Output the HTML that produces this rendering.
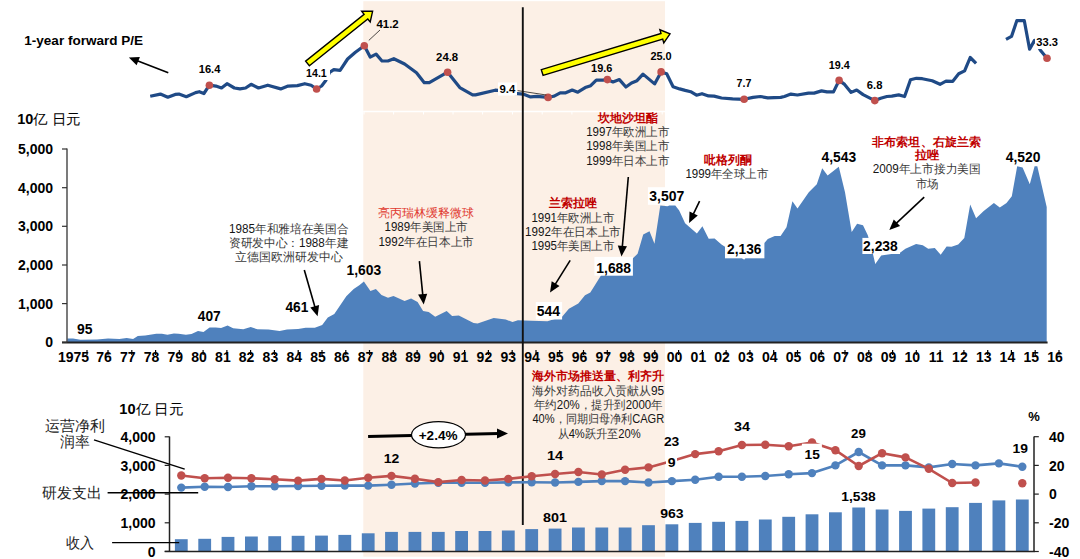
<!DOCTYPE html><html><head><meta charset="utf-8"><style>html,body{margin:0;padding:0;background:#fff;overflow:hidden}svg{display:block}text{font-family:'Liberation Sans', sans-serif}</style></head><body>
<svg width="1080" height="559" viewBox="0 0 1080 559">
<rect x="0" y="0" width="1080" height="559" fill="#fff"/>
<rect x="363.3" y="1.2" width="301.7" height="555.5" fill="#FCF0E6"/>
<line x1="363.3" y1="111.5" x2="665" y2="111.5" stroke="#fff" stroke-width="1.5"/>
<line x1="364" y1="111" x2="364" y2="114.5" stroke="#fff" stroke-width="1"/>
<line x1="393.6" y1="111" x2="393.6" y2="114.5" stroke="#fff" stroke-width="1"/>
<line x1="423.5" y1="111" x2="423.5" y2="114.5" stroke="#fff" stroke-width="1"/>
<line x1="453" y1="111" x2="453" y2="114.5" stroke="#fff" stroke-width="1"/>
<line x1="482.6" y1="111" x2="482.6" y2="114.5" stroke="#fff" stroke-width="1"/>
<line x1="512.5" y1="111" x2="512.5" y2="114.5" stroke="#fff" stroke-width="1"/>
<line x1="542.2" y1="111" x2="542.2" y2="114.5" stroke="#fff" stroke-width="1"/>
<line x1="571.9" y1="111" x2="571.9" y2="114.5" stroke="#fff" stroke-width="1"/>
<line x1="602.2" y1="111" x2="602.2" y2="114.5" stroke="#fff" stroke-width="1"/>
<line x1="632.3" y1="111" x2="632.3" y2="114.5" stroke="#fff" stroke-width="1"/>
<line x1="662.2" y1="111" x2="662.2" y2="114.5" stroke="#fff" stroke-width="1"/>
<polyline points="150.2,96.3 160.4,94.1 167.8,97.2 175.2,94.4 178.9,94.1 186.3,96.7 195.6,92.6 199.3,91.7 203.9,93.5 209.4,85.2 215.9,86.1 221.5,88.0 227.0,83.7 234.4,88.0 240.0,88.9 245.6,88.0 251.1,84.3 258.5,88.0 267.8,85.2 280.7,88.9 288.1,86.1 297.4,85.6 304.8,83.7 311.1,85.2 316.6,89.0 321.6,86.0 325.6,80.8 329.6,72.3 333.8,69.7 340.1,70.3 347.6,59.0 355.4,52.2 364.3,45.7 370.2,57.1 376.1,54.1 382.0,61.0 387.9,61.0 393.8,58.7 404.6,64.0 416.5,72.8 424.3,82.7 429.3,82.7 447.6,72.2 459.8,87.6 472.6,94.9 475.5,94.9 495.2,90.2 501.1,90.6 513.9,93.5 517.6,93.7 523.1,94.1 530.6,96.9 537.0,96.3 548.1,97.4 553.7,96.3 560.2,92.8 565.7,92.8 572.2,90.0 577.8,92.2 585.2,87.6 590.7,85.7 596.3,80.2 602.8,80.2 607.4,79.6 613.0,82.0 619.4,79.6 625.9,87.0 631.5,83.0 637.0,80.7 643.0,74.1 654.6,83.9 661.1,71.9 666.7,73.7 673.1,86.7 679.6,88.9 685.2,90.4 690.7,91.7 696.5,95.2 702.0,93.7 708.5,95.9 714.1,96.1 721.5,98.0 732.6,98.9 744.1,99.3 753.0,97.4 760.4,96.5 767.8,97.8 780.7,97.4 784.4,96.5 790.9,94.1 797.4,95.0 808.5,93.1 814.1,93.1 821.5,90.9 827.0,91.9 833.5,91.9 839.1,80.4 844.6,84.4 851.1,92.4 856.7,90.0 863.1,94.6 874.8,100.6 880.7,98.3 886.9,96.5 891.8,96.1 898.7,94.9 904.6,96.5 910.5,79.7 916.4,78.3 922.3,78.7 932.2,80.7 940.0,84.3 946.0,81.1 952.8,81.3 958.7,73.8 964.6,70.9 970.2,57.5 976.1,63.4" fill="none" stroke="#1F4A86" stroke-width="3.2" stroke-linejoin="round" stroke-linecap="butt"/>
<polyline points="1006.0,39.4 1011.5,36.4 1016.8,20.7 1024.3,20.7 1029.6,49.2 1034.5,40.4 1037.0,44.0 1040.4,50.2 1047.0,58.3" fill="none" stroke="#1F4A86" stroke-width="3.2" stroke-linejoin="round" stroke-linecap="butt"/>
<circle cx="209.4" cy="85.2" r="3.8" fill="#C0504D"/>
<circle cx="316.6" cy="89.0" r="3.8" fill="#C0504D"/>
<circle cx="364.3" cy="45.7" r="3.8" fill="#C0504D"/>
<circle cx="447.6" cy="72.2" r="3.8" fill="#C0504D"/>
<circle cx="548.1" cy="97.4" r="3.8" fill="#C0504D"/>
<circle cx="607.4" cy="79.6" r="3.8" fill="#C0504D"/>
<circle cx="661.1" cy="71.9" r="3.8" fill="#C0504D"/>
<circle cx="744.1" cy="99.3" r="3.8" fill="#C0504D"/>
<circle cx="839.1" cy="80.4" r="3.8" fill="#C0504D"/>
<circle cx="874.8" cy="100.6" r="3.8" fill="#C0504D"/>
<circle cx="1047" cy="58.3" r="3.8" fill="#C0504D"/>
<rect x="303" y="66" width="27" height="14" fill="#fff"/>
<rect x="498" y="82.5" width="19" height="13" fill="#fff"/>
<rect x="1035" y="36" width="24" height="13" fill="#fff"/>
<line x1="368.8" y1="40.4" x2="380" y2="30" stroke="#000" stroke-width="0.7"/>
<line x1="517.6" y1="90.6" x2="546.3" y2="95" stroke="#000" stroke-width="0.7"/>
<text x="198.7" y="73.1" font-size="11" font-weight="bold" text-anchor="start" fill="#000" textLength="21.7" lengthAdjust="spacingAndGlyphs" >16.4</text>
<text x="306.1" y="76.8" font-size="11" font-weight="bold" text-anchor="start" fill="#000" textLength="20.7" lengthAdjust="spacingAndGlyphs" >14.1</text>
<text x="376.4" y="28.1" font-size="11" font-weight="bold" text-anchor="start" fill="#000" textLength="22.3" lengthAdjust="spacingAndGlyphs" >41.2</text>
<text x="436.1" y="60.5" font-size="11" font-weight="bold" text-anchor="start" fill="#000" textLength="22.1" lengthAdjust="spacingAndGlyphs" >24.8</text>
<text x="499.5" y="92.7" font-size="11" font-weight="bold" text-anchor="start" fill="#000" textLength="15.8" lengthAdjust="spacingAndGlyphs" >9.4</text>
<text x="591.1" y="72.0" font-size="11" font-weight="bold" text-anchor="start" fill="#000" textLength="21.3" lengthAdjust="spacingAndGlyphs" >19.6</text>
<text x="650.4" y="59.8" font-size="11" font-weight="bold" text-anchor="start" fill="#000" textLength="21.3" lengthAdjust="spacingAndGlyphs" >25.0</text>
<text x="736.6" y="86.8" font-size="11" font-weight="bold" text-anchor="start" fill="#000" textLength="14.8" lengthAdjust="spacingAndGlyphs" >7.7</text>
<text x="828.7" y="68.6" font-size="11" font-weight="bold" text-anchor="start" fill="#000" textLength="21.0" lengthAdjust="spacingAndGlyphs" >19.4</text>
<text x="866.8" y="89.0" font-size="11" font-weight="bold" text-anchor="start" fill="#000" textLength="15.6" lengthAdjust="spacingAndGlyphs" >6.8</text>
<text x="1036.3" y="46.2" font-size="11" font-weight="bold" text-anchor="start" fill="#000" textLength="21.7" lengthAdjust="spacingAndGlyphs" >33.3</text>
<text x="24.3" y="45.2" font-size="13" font-weight="bold" text-anchor="start" fill="#000" textLength="118.8" lengthAdjust="spacingAndGlyphs" >1-year forward P/E</text>
<line x1="168.3" y1="72.8" x2="137.3" y2="60.8" stroke="#000" stroke-width="1.6"/>
<polygon points="128.9,57.5 139.9,56.9 136.6,65.3" fill="#000"/>
<polygon points="309.4,65.8 367.8,19.0 370.2,21.9 372.6,11.3 361.7,11.3 364.1,14.3 305.6,61.2" fill="#FFFF00" stroke="#000" stroke-width="1.4" stroke-linejoin="miter"/>
<polygon points="543.1,75.4 662.7,39.2 663.8,42.9 670.0,33.9 659.9,29.8 661.0,33.5 541.3,69.6" fill="#FFFF00" stroke="#000" stroke-width="1.4" stroke-linejoin="miter"/>
<polygon points="67.4,342.5 67.4,338.5 73.0,338.5 80.4,339.8 97.0,339.4 108.1,338.5 119.3,339.1 126.7,338.1 133.1,339.1 137.8,336.1 145.2,335.6 156.3,333.7 161.9,333.7 167.4,334.8 173.9,333.5 178.5,333.7 185.9,334.8 191.5,333.9 198.0,331.1 203.5,332.0 209.6,327.4 215.6,327.4 221.1,328.0 227.6,325.4 233.1,328.3 243.3,329.3 250.7,327.0 257.4,329.3 268.5,329.6 279.6,330.9 287.0,329.6 298.1,329.1 305.6,327.8 314.8,327.8 322.2,325.0 327.8,317.6 334.3,313.9 346.3,296.3 353.7,288.9 359.3,285.2 363.9,281.5 370.4,291.1 375.9,288.9 381.5,295.0 388.0,297.8 393.5,295.9 404.6,300.9 411.1,298.5 417.6,301.9 423.1,311.1 428.7,312.0 435.2,316.7 446.7,310.9 452.1,316.0 458.8,315.4 473.6,323.0 477.6,323.5 493.7,318.1 505.8,319.5 512.5,322.1 517.9,320.3 531.3,320.8 547.4,321.3 562.1,316.8 568.9,308.7 578.3,303.4 585.0,295.3 590.3,292.6 594.4,285.9 601.1,275.2 607.8,271.1 614.5,271.1 627.9,266.0 632.9,258.2 637.6,253.8 643.2,234.4 649.5,231.3 654.5,243.8 660.3,205.6 667.4,206.2 669.4,205.6 675.3,205.6 679.2,210.5 685.1,223.3 696.9,233.5 702.4,226.3 708.7,238.7 714.6,238.5 721.5,244.6 730.0,250.0 744.2,259.7 750.0,252.0 764.4,243.0 767.8,239.0 774.7,236.1 780.6,236.1 786.5,227.2 792.4,201.3 797.5,208.4 808.8,192.3 816.8,184.3 822.2,168.2 827.6,175.4 838.8,166.8 845.0,192.3 851.7,232.0 857.1,223.7 863.0,225.3 867.8,235.3 872.0,250.0 875.3,264.0 881.2,255.4 900.0,252.7 905.4,248.7 916.1,244.1 922.8,245.2 928.2,248.7 934.8,247.9 940.7,254.8 946.6,246.5 951.5,246.8 958.2,244.6 964.3,237.9 970.2,204.4 976.1,218.3 983.7,211.1 993.9,203.1 999.8,207.6 1006.5,203.1 1011.8,196.3 1017.2,166.3 1022.6,167.4 1029.8,184.3 1034.6,166.3 1037.3,166.3 1046.7,207.1 1046.7,342.5" fill="#4F81BD"/>
<line x1="62" y1="342.5" x2="1047.6" y2="342.5" stroke="#222" stroke-width="1.8"/>
<line x1="67" y1="148.6" x2="67" y2="342.5" stroke="#333" stroke-width="1.3"/>
<line x1="62" y1="149.0" x2="67" y2="149.0" stroke="#333" stroke-width="1.2"/>
<text x="53.0" y="154.0" font-size="14" font-weight="bold" text-anchor="end" fill="#000" >5,000</text>
<line x1="62" y1="187.7" x2="67" y2="187.7" stroke="#333" stroke-width="1.2"/>
<text x="53.0" y="192.7" font-size="14" font-weight="bold" text-anchor="end" fill="#000" >4,000</text>
<line x1="62" y1="226.3" x2="67" y2="226.3" stroke="#333" stroke-width="1.2"/>
<text x="53.0" y="231.3" font-size="14" font-weight="bold" text-anchor="end" fill="#000" >3,000</text>
<line x1="62" y1="265.0" x2="67" y2="265.0" stroke="#333" stroke-width="1.2"/>
<text x="53.0" y="270.0" font-size="14" font-weight="bold" text-anchor="end" fill="#000" >2,000</text>
<line x1="62" y1="303.6" x2="67" y2="303.6" stroke="#333" stroke-width="1.2"/>
<text x="53.0" y="308.6" font-size="14" font-weight="bold" text-anchor="end" fill="#000" >1,000</text>
<line x1="62" y1="342.3" x2="67" y2="342.3" stroke="#333" stroke-width="1.2"/>
<text x="53.0" y="347.3" font-size="14" font-weight="bold" text-anchor="end" fill="#000" >0</text>
<text x="17.3" y="124" font-size="14" textLength="63.5" lengthAdjust="spacingAndGlyphs"><tspan font-weight="bold">10</tspan><tspan font-weight="normal">亿 日元</tspan></text>
<text x="73.5" y="362.0" font-size="14" font-weight="bold" text-anchor="middle" fill="#000" >1975</text>
<line x1="87.0" y1="350" x2="87.0" y2="355" stroke="#000" stroke-width="1.2"/>
<text x="104.0" y="362.0" font-size="14" font-weight="bold" text-anchor="middle" fill="#000" >76</text>
<line x1="108.0" y1="350" x2="108.0" y2="355" stroke="#000" stroke-width="1.2"/>
<text x="127.8" y="362.0" font-size="14" font-weight="bold" text-anchor="middle" fill="#000" >77</text>
<line x1="131.8" y1="350" x2="131.8" y2="355" stroke="#000" stroke-width="1.2"/>
<text x="151.6" y="362.0" font-size="14" font-weight="bold" text-anchor="middle" fill="#000" >78</text>
<line x1="155.6" y1="350" x2="155.6" y2="355" stroke="#000" stroke-width="1.2"/>
<text x="175.3" y="362.0" font-size="14" font-weight="bold" text-anchor="middle" fill="#000" >79</text>
<line x1="179.3" y1="350" x2="179.3" y2="355" stroke="#000" stroke-width="1.2"/>
<text x="199.1" y="362.0" font-size="14" font-weight="bold" text-anchor="middle" fill="#000" >80</text>
<line x1="203.1" y1="350" x2="203.1" y2="355" stroke="#000" stroke-width="1.2"/>
<text x="222.9" y="362.0" font-size="14" font-weight="bold" text-anchor="middle" fill="#000" >81</text>
<line x1="226.9" y1="350" x2="226.9" y2="355" stroke="#000" stroke-width="1.2"/>
<text x="246.6" y="362.0" font-size="14" font-weight="bold" text-anchor="middle" fill="#000" >82</text>
<line x1="250.6" y1="350" x2="250.6" y2="355" stroke="#000" stroke-width="1.2"/>
<text x="270.4" y="362.0" font-size="14" font-weight="bold" text-anchor="middle" fill="#000" >83</text>
<line x1="274.4" y1="350" x2="274.4" y2="355" stroke="#000" stroke-width="1.2"/>
<text x="294.2" y="362.0" font-size="14" font-weight="bold" text-anchor="middle" fill="#000" >84</text>
<line x1="298.2" y1="350" x2="298.2" y2="355" stroke="#000" stroke-width="1.2"/>
<text x="318.0" y="362.0" font-size="14" font-weight="bold" text-anchor="middle" fill="#000" >85</text>
<line x1="322.0" y1="350" x2="322.0" y2="355" stroke="#000" stroke-width="1.2"/>
<text x="341.8" y="362.0" font-size="14" font-weight="bold" text-anchor="middle" fill="#000" >86</text>
<line x1="345.8" y1="350" x2="345.8" y2="355" stroke="#000" stroke-width="1.2"/>
<text x="365.5" y="362.0" font-size="14" font-weight="bold" text-anchor="middle" fill="#000" >87</text>
<line x1="369.5" y1="350" x2="369.5" y2="355" stroke="#000" stroke-width="1.2"/>
<text x="389.3" y="362.0" font-size="14" font-weight="bold" text-anchor="middle" fill="#000" >88</text>
<line x1="393.3" y1="350" x2="393.3" y2="355" stroke="#000" stroke-width="1.2"/>
<text x="413.1" y="362.0" font-size="14" font-weight="bold" text-anchor="middle" fill="#000" >89</text>
<line x1="417.1" y1="350" x2="417.1" y2="355" stroke="#000" stroke-width="1.2"/>
<text x="436.8" y="362.0" font-size="14" font-weight="bold" text-anchor="middle" fill="#000" >90</text>
<line x1="440.8" y1="350" x2="440.8" y2="355" stroke="#000" stroke-width="1.2"/>
<text x="460.6" y="362.0" font-size="14" font-weight="bold" text-anchor="middle" fill="#000" >91</text>
<line x1="464.6" y1="350" x2="464.6" y2="355" stroke="#000" stroke-width="1.2"/>
<text x="484.4" y="362.0" font-size="14" font-weight="bold" text-anchor="middle" fill="#000" >92</text>
<line x1="488.4" y1="350" x2="488.4" y2="355" stroke="#000" stroke-width="1.2"/>
<text x="508.2" y="362.0" font-size="14" font-weight="bold" text-anchor="middle" fill="#000" >93</text>
<line x1="512.2" y1="350" x2="512.2" y2="355" stroke="#000" stroke-width="1.2"/>
<text x="532.0" y="362.0" font-size="14" font-weight="bold" text-anchor="middle" fill="#000" >94</text>
<line x1="536.0" y1="350" x2="536.0" y2="355" stroke="#000" stroke-width="1.2"/>
<text x="555.7" y="362.0" font-size="14" font-weight="bold" text-anchor="middle" fill="#000" >95</text>
<line x1="559.7" y1="350" x2="559.7" y2="355" stroke="#000" stroke-width="1.2"/>
<text x="579.5" y="362.0" font-size="14" font-weight="bold" text-anchor="middle" fill="#000" >96</text>
<line x1="583.5" y1="350" x2="583.5" y2="355" stroke="#000" stroke-width="1.2"/>
<text x="603.3" y="362.0" font-size="14" font-weight="bold" text-anchor="middle" fill="#000" >97</text>
<line x1="607.3" y1="350" x2="607.3" y2="355" stroke="#000" stroke-width="1.2"/>
<text x="627.0" y="362.0" font-size="14" font-weight="bold" text-anchor="middle" fill="#000" >98</text>
<line x1="631.0" y1="350" x2="631.0" y2="355" stroke="#000" stroke-width="1.2"/>
<text x="650.8" y="362.0" font-size="14" font-weight="bold" text-anchor="middle" fill="#000" >99</text>
<line x1="654.8" y1="350" x2="654.8" y2="355" stroke="#000" stroke-width="1.2"/>
<text x="674.6" y="362.0" font-size="14" font-weight="bold" text-anchor="middle" fill="#000" >00</text>
<line x1="678.6" y1="350" x2="678.6" y2="355" stroke="#000" stroke-width="1.2"/>
<text x="698.4" y="362.0" font-size="14" font-weight="bold" text-anchor="middle" fill="#000" >01</text>
<line x1="702.4" y1="350" x2="702.4" y2="355" stroke="#000" stroke-width="1.2"/>
<text x="722.1" y="362.0" font-size="14" font-weight="bold" text-anchor="middle" fill="#000" >02</text>
<line x1="726.1" y1="350" x2="726.1" y2="355" stroke="#000" stroke-width="1.2"/>
<text x="745.9" y="362.0" font-size="14" font-weight="bold" text-anchor="middle" fill="#000" >03</text>
<line x1="749.9" y1="350" x2="749.9" y2="355" stroke="#000" stroke-width="1.2"/>
<text x="769.7" y="362.0" font-size="14" font-weight="bold" text-anchor="middle" fill="#000" >04</text>
<line x1="773.7" y1="350" x2="773.7" y2="355" stroke="#000" stroke-width="1.2"/>
<text x="793.5" y="362.0" font-size="14" font-weight="bold" text-anchor="middle" fill="#000" >05</text>
<line x1="797.5" y1="350" x2="797.5" y2="355" stroke="#000" stroke-width="1.2"/>
<text x="817.2" y="362.0" font-size="14" font-weight="bold" text-anchor="middle" fill="#000" >06</text>
<line x1="821.2" y1="350" x2="821.2" y2="355" stroke="#000" stroke-width="1.2"/>
<text x="841.0" y="362.0" font-size="14" font-weight="bold" text-anchor="middle" fill="#000" >07</text>
<line x1="845.0" y1="350" x2="845.0" y2="355" stroke="#000" stroke-width="1.2"/>
<text x="864.8" y="362.0" font-size="14" font-weight="bold" text-anchor="middle" fill="#000" >08</text>
<line x1="868.8" y1="350" x2="868.8" y2="355" stroke="#000" stroke-width="1.2"/>
<text x="888.6" y="362.0" font-size="14" font-weight="bold" text-anchor="middle" fill="#000" >09</text>
<line x1="892.6" y1="350" x2="892.6" y2="355" stroke="#000" stroke-width="1.2"/>
<text x="912.3" y="362.0" font-size="14" font-weight="bold" text-anchor="middle" fill="#000" >10</text>
<line x1="916.3" y1="350" x2="916.3" y2="355" stroke="#000" stroke-width="1.2"/>
<text x="936.1" y="362.0" font-size="14" font-weight="bold" text-anchor="middle" fill="#000" >11</text>
<line x1="940.1" y1="350" x2="940.1" y2="355" stroke="#000" stroke-width="1.2"/>
<text x="959.9" y="362.0" font-size="14" font-weight="bold" text-anchor="middle" fill="#000" >12</text>
<line x1="963.9" y1="350" x2="963.9" y2="355" stroke="#000" stroke-width="1.2"/>
<text x="983.7" y="362.0" font-size="14" font-weight="bold" text-anchor="middle" fill="#000" >13</text>
<line x1="987.7" y1="350" x2="987.7" y2="355" stroke="#000" stroke-width="1.2"/>
<text x="1007.4" y="362.0" font-size="14" font-weight="bold" text-anchor="middle" fill="#000" >14</text>
<line x1="1011.4" y1="350" x2="1011.4" y2="355" stroke="#000" stroke-width="1.2"/>
<text x="1031.2" y="362.0" font-size="14" font-weight="bold" text-anchor="middle" fill="#000" >15</text>
<line x1="1035.2" y1="350" x2="1035.2" y2="355" stroke="#000" stroke-width="1.2"/>
<text x="1055.0" y="362.0" font-size="14" font-weight="bold" text-anchor="middle" fill="#000" >16</text>
<line x1="1059.0" y1="350" x2="1059.0" y2="355" stroke="#000" stroke-width="1.2"/>
<rect x="535.8" y="302" width="26.3" height="17.5" fill="#fff"/>
<rect x="594.4" y="256.9" width="38.5" height="18.8" fill="#fff"/>
<rect x="647.9" y="187.2" width="36.4" height="17.6" fill="#fff"/>
<rect x="725" y="243" width="39.4" height="15.3" fill="#fff"/>
<rect x="862.4" y="237.9" width="37.6" height="16.1" fill="#fff"/>
<text x="76.9" y="333.5" font-size="14" font-weight="bold" text-anchor="start" fill="#000" textLength="15.5" lengthAdjust="spacingAndGlyphs" >95</text>
<text x="197.8" y="321.3" font-size="14" font-weight="bold" text-anchor="start" fill="#000" textLength="22.9" lengthAdjust="spacingAndGlyphs" >407</text>
<text x="285.4" y="312.0" font-size="14" font-weight="bold" text-anchor="start" fill="#000" textLength="22.9" lengthAdjust="spacingAndGlyphs" >461</text>
<text x="346.5" y="275.0" font-size="14" font-weight="bold" text-anchor="start" fill="#000" textLength="34.6" lengthAdjust="spacingAndGlyphs" >1,603</text>
<text x="536.7" y="316.0" font-size="14" font-weight="bold" text-anchor="start" fill="#000" textLength="23.3" lengthAdjust="spacingAndGlyphs" >544</text>
<text x="596.3" y="272.5" font-size="14" font-weight="bold" text-anchor="start" fill="#000" textLength="34.8" lengthAdjust="spacingAndGlyphs" >1,688</text>
<text x="649.3" y="201.2" font-size="14" font-weight="bold" text-anchor="start" fill="#000" textLength="35.0" lengthAdjust="spacingAndGlyphs" >3,507</text>
<text x="727.1" y="253.8" font-size="14" font-weight="bold" text-anchor="start" fill="#000" textLength="34.3" lengthAdjust="spacingAndGlyphs" >2,136</text>
<text x="821.5" y="161.5" font-size="14" font-weight="bold" text-anchor="start" fill="#000" textLength="34.7" lengthAdjust="spacingAndGlyphs" >4,543</text>
<text x="863.1" y="250.8" font-size="14" font-weight="bold" text-anchor="start" fill="#000" textLength="34.7" lengthAdjust="spacingAndGlyphs" >2,238</text>
<text x="1005.8" y="162.0" font-size="14" font-weight="bold" text-anchor="start" fill="#000" textLength="34.7" lengthAdjust="spacingAndGlyphs" >4,520</text>
<line x1="304.3" y1="270.0" x2="315.0" y2="307.2" stroke="#000" stroke-width="1.6"/>
<polygon points="317.6,316.3 310.3,307.5 319.1,304.9" fill="#000"/>
<line x1="419.4" y1="261.1" x2="422.8" y2="295.1" stroke="#000" stroke-width="1.6"/>
<polygon points="423.7,304.6 418.1,294.6 427.2,293.7" fill="#000"/>
<line x1="570.2" y1="260.4" x2="555.0" y2="284.6" stroke="#000" stroke-width="1.6"/>
<polygon points="550.0,292.6 551.7,281.3 559.5,286.1" fill="#000"/>
<line x1="628.3" y1="177.0" x2="622.3" y2="246.9" stroke="#000" stroke-width="1.6"/>
<polygon points="621.5,256.4 617.8,245.5 627.0,246.3" fill="#000"/>
<line x1="699.6" y1="201.2" x2="693.2" y2="214.3" stroke="#000" stroke-width="1.6"/>
<polygon points="689.1,222.9 689.5,211.4 697.8,215.5" fill="#000"/>
<line x1="924.2" y1="197.2" x2="896.2" y2="223.4" stroke="#000" stroke-width="1.6"/>
<polygon points="889.3,229.9 893.8,219.4 900.1,226.1" fill="#000"/>
<text x="228.9" y="232.7" font-size="12" font-weight="300" text-anchor="start" fill="#3a3a3a" textLength="119.6" lengthAdjust="spacingAndGlyphs" ><tspan fill="#151515">1985</tspan>年和雅培在美国合</text>
<text x="228.9" y="247.0" font-size="12" font-weight="300" text-anchor="start" fill="#3a3a3a" textLength="119.3" lengthAdjust="spacingAndGlyphs" >资研发中心：<tspan fill="#151515">1988</tspan>年建</text>
<text x="235.4" y="261.3" font-size="12" font-weight="300" text-anchor="start" fill="#3a3a3a" textLength="107.3" lengthAdjust="spacingAndGlyphs" >立德国欧洲研发中心</text>
<text x="378.4" y="217.3" font-size="12" font-weight="300" text-anchor="start" fill="#E0392F" textLength="95.4" lengthAdjust="spacingAndGlyphs" >亮丙瑞林缓释微球</text>
<text x="384.5" y="231.2" font-size="12" font-weight="300" text-anchor="start" fill="#3a3a3a" textLength="83.2" lengthAdjust="spacingAndGlyphs" ><tspan fill="#151515">1989</tspan>年美国上市</text>
<text x="378.4" y="245.6" font-size="12" font-weight="300" text-anchor="start" fill="#3a3a3a" textLength="95.4" lengthAdjust="spacingAndGlyphs" ><tspan fill="#151515">1992</tspan>年在日本上市</text>
<text x="598.0" y="121.7" font-size="12" font-weight="bold" text-anchor="start" fill="#C00000" textLength="60.3" lengthAdjust="spacingAndGlyphs" >坎地沙坦酯</text>
<text x="586.2" y="135.8" font-size="12" font-weight="300" text-anchor="start" fill="#3a3a3a" textLength="83.2" lengthAdjust="spacingAndGlyphs" ><tspan fill="#151515">1997</tspan>年欧洲上市</text>
<text x="586.2" y="149.9" font-size="12" font-weight="300" text-anchor="start" fill="#3a3a3a" textLength="83.2" lengthAdjust="spacingAndGlyphs" ><tspan fill="#151515">1998</tspan>年美国上市</text>
<text x="586.2" y="164.7" font-size="12" font-weight="300" text-anchor="start" fill="#3a3a3a" textLength="83.2" lengthAdjust="spacingAndGlyphs" ><tspan fill="#151515">1999</tspan>年日本上市</text>
<text x="548.9" y="207.0" font-size="12" font-weight="bold" text-anchor="start" fill="#C00000" textLength="48.0" lengthAdjust="spacingAndGlyphs" >兰索拉唑</text>
<text x="531.4" y="221.5" font-size="12" font-weight="300" text-anchor="start" fill="#3a3a3a" textLength="83.1" lengthAdjust="spacingAndGlyphs" ><tspan fill="#151515">1991</tspan>年欧洲上市</text>
<text x="525.1" y="235.9" font-size="12" font-weight="300" text-anchor="start" fill="#3a3a3a" textLength="95.7" lengthAdjust="spacingAndGlyphs" ><tspan fill="#151515">1992</tspan>年在日本上市</text>
<text x="531.4" y="250.3" font-size="12" font-weight="300" text-anchor="start" fill="#3a3a3a" textLength="83.1" lengthAdjust="spacingAndGlyphs" ><tspan fill="#151515">1995</tspan>年美国上市</text>
<text x="703.9" y="163.7" font-size="12" font-weight="bold" text-anchor="start" fill="#C00000" textLength="47.7" lengthAdjust="spacingAndGlyphs" >吡格列酮</text>
<text x="685.4" y="178.1" font-size="12" font-weight="300" text-anchor="start" fill="#3a3a3a" textLength="83.1" lengthAdjust="spacingAndGlyphs" ><tspan fill="#151515">1999</tspan>年全球上市</text>
<text x="872.4" y="146.0" font-size="12" font-weight="bold" text-anchor="start" fill="#C00000" textLength="108.3" lengthAdjust="spacingAndGlyphs" >非布索坦、右旋兰索</text>
<text x="914.6" y="158.9" font-size="12" font-weight="bold" text-anchor="start" fill="#C00000" textLength="24.6" lengthAdjust="spacingAndGlyphs" >拉唑</text>
<text x="872.7" y="173.2" font-size="12" font-weight="300" text-anchor="start" fill="#3a3a3a" textLength="108.0" lengthAdjust="spacingAndGlyphs" ><tspan fill="#151515">2009</tspan>年上市接力美国</text>
<text x="916.0" y="187.5" font-size="12" font-weight="300" text-anchor="start" fill="#3a3a3a" textLength="22.9" lengthAdjust="spacingAndGlyphs" >市场</text>
<text x="532.4" y="380.0" font-size="12" font-weight="bold" text-anchor="start" fill="#C00000" textLength="131.8" lengthAdjust="spacingAndGlyphs" >海外市场推送量、利齐升</text>
<text x="532.4" y="394.5" font-size="12" font-weight="300" text-anchor="start" fill="#3a3a3a" textLength="131.8" lengthAdjust="spacingAndGlyphs" >海外对药品收入贡献从<tspan fill="#151515">95</tspan></text>
<text x="533.9" y="408.9" font-size="12" font-weight="300" text-anchor="start" fill="#3a3a3a" textLength="128.8" lengthAdjust="spacingAndGlyphs" >年约<tspan fill="#151515">20%</tspan>，提升到<tspan fill="#151515">2000</tspan>年</text>
<text x="532.4" y="423.4" font-size="12" font-weight="300" text-anchor="start" fill="#3a3a3a" textLength="131.8" lengthAdjust="spacingAndGlyphs" ><tspan fill="#151515">40%</tspan>，同期归母净利<tspan fill="#151515">CAGR</tspan></text>
<text x="557.5" y="437.8" font-size="12" font-weight="300" text-anchor="start" fill="#3a3a3a" textLength="83.2" lengthAdjust="spacingAndGlyphs" >从<tspan fill="#151515">4%</tspan>跃升至<tspan fill="#151515">20%</tspan></text>
<line x1="522.8" y1="7.2" x2="522.8" y2="525" stroke="#111" stroke-width="1.9"/>
<text x="119.3" y="414" font-size="14" textLength="64" lengthAdjust="spacingAndGlyphs"><tspan font-weight="bold">10</tspan><tspan font-weight="normal">亿 日元</tspan></text>
<line x1="169.5" y1="436.5" x2="169.5" y2="551.5" stroke="#222" stroke-width="1.5"/>
<line x1="164.7" y1="436.8" x2="169.5" y2="436.8" stroke="#222" stroke-width="1.2"/>
<text x="155.5" y="442.0" font-size="14" font-weight="bold" text-anchor="end" fill="#000" >4,000</text>
<line x1="164.7" y1="465.4" x2="169.5" y2="465.4" stroke="#222" stroke-width="1.2"/>
<text x="155.5" y="470.6" font-size="14" font-weight="bold" text-anchor="end" fill="#000" >3,000</text>
<line x1="164.7" y1="494.1" x2="169.5" y2="494.1" stroke="#222" stroke-width="1.2"/>
<text x="155.5" y="499.3" font-size="14" font-weight="bold" text-anchor="end" fill="#000" >2,000</text>
<line x1="164.7" y1="522.8" x2="169.5" y2="522.8" stroke="#222" stroke-width="1.2"/>
<text x="155.5" y="528.0" font-size="14" font-weight="bold" text-anchor="end" fill="#000" >1,000</text>
<line x1="164.7" y1="551.4" x2="169.5" y2="551.4" stroke="#222" stroke-width="1.2"/>
<text x="155.5" y="556.6" font-size="14" font-weight="bold" text-anchor="end" fill="#000" >0</text>
<line x1="1034" y1="436.5" x2="1034" y2="551.5" stroke="#222" stroke-width="1.5"/>
<line x1="1034" y1="436.7" x2="1038.8" y2="436.7" stroke="#222" stroke-width="1.2"/>
<text x="1049.0" y="441.9" font-size="14" font-weight="bold" text-anchor="start" fill="#000" >40</text>
<line x1="1034" y1="465.4" x2="1038.8" y2="465.4" stroke="#222" stroke-width="1.2"/>
<text x="1049.0" y="470.6" font-size="14" font-weight="bold" text-anchor="start" fill="#000" >20</text>
<line x1="1034" y1="494.1" x2="1038.8" y2="494.1" stroke="#222" stroke-width="1.2"/>
<text x="1049.0" y="499.3" font-size="14" font-weight="bold" text-anchor="start" fill="#000" >0</text>
<line x1="1034" y1="522.8" x2="1038.8" y2="522.8" stroke="#222" stroke-width="1.2"/>
<text x="1049.0" y="528.0" font-size="14" font-weight="bold" text-anchor="start" fill="#000" >-20</text>
<line x1="1034" y1="551.5" x2="1038.8" y2="551.5" stroke="#222" stroke-width="1.2"/>
<text x="1049.0" y="556.7" font-size="14" font-weight="bold" text-anchor="start" fill="#000" >-40</text>
<text x="1028.3" y="421.3" font-size="13" font-weight="bold" text-anchor="start" fill="#000" >%</text>
<rect x="174.9" y="539.2" width="12.8" height="12.3" fill="#4F81BD"/>
<rect x="198.3" y="538.8" width="12.8" height="12.7" fill="#4F81BD"/>
<rect x="221.6" y="536.9" width="12.8" height="14.6" fill="#4F81BD"/>
<rect x="245.0" y="536.5" width="12.8" height="15.0" fill="#4F81BD"/>
<rect x="268.3" y="536.2" width="12.8" height="15.3" fill="#4F81BD"/>
<rect x="291.7" y="535.8" width="12.8" height="15.7" fill="#4F81BD"/>
<rect x="315.1" y="535.6" width="12.8" height="15.9" fill="#4F81BD"/>
<rect x="338.4" y="534.9" width="12.8" height="16.6" fill="#4F81BD"/>
<rect x="361.8" y="533.3" width="12.8" height="18.2" fill="#4F81BD"/>
<rect x="385.1" y="531.9" width="12.8" height="19.6" fill="#4F81BD"/>
<rect x="408.5" y="531.9" width="12.8" height="19.6" fill="#4F81BD"/>
<rect x="431.9" y="531.9" width="12.8" height="19.6" fill="#4F81BD"/>
<rect x="455.2" y="531" width="12.8" height="20.5" fill="#4F81BD"/>
<rect x="478.6" y="531" width="12.8" height="20.5" fill="#4F81BD"/>
<rect x="501.9" y="530.5" width="12.8" height="21.0" fill="#4F81BD"/>
<rect x="525.3" y="529.1" width="12.8" height="22.4" fill="#4F81BD"/>
<rect x="548.7" y="528.6" width="12.8" height="22.9" fill="#4F81BD"/>
<rect x="572.0" y="527.5" width="12.8" height="24.0" fill="#4F81BD"/>
<rect x="595.4" y="527.5" width="12.8" height="24.0" fill="#4F81BD"/>
<rect x="618.7" y="527.5" width="12.8" height="24.0" fill="#4F81BD"/>
<rect x="642.1" y="525.2" width="12.8" height="26.3" fill="#4F81BD"/>
<rect x="665.5" y="524.3" width="12.8" height="27.2" fill="#4F81BD"/>
<rect x="688.8" y="522.9" width="12.8" height="28.6" fill="#4F81BD"/>
<rect x="712.2" y="521.8" width="12.8" height="29.7" fill="#4F81BD"/>
<rect x="735.5" y="520.9" width="12.8" height="30.6" fill="#4F81BD"/>
<rect x="758.9" y="519.5" width="12.8" height="32.0" fill="#4F81BD"/>
<rect x="782.3" y="516.8" width="12.8" height="34.7" fill="#4F81BD"/>
<rect x="805.6" y="514.3" width="12.8" height="37.2" fill="#4F81BD"/>
<rect x="829.0" y="512.3" width="12.8" height="39.2" fill="#4F81BD"/>
<rect x="852.3" y="507.5" width="12.8" height="44.0" fill="#4F81BD"/>
<rect x="875.7" y="509.5" width="12.8" height="42.0" fill="#4F81BD"/>
<rect x="899.1" y="510.9" width="12.8" height="40.6" fill="#4F81BD"/>
<rect x="922.4" y="508.6" width="12.8" height="42.9" fill="#4F81BD"/>
<rect x="945.8" y="507.2" width="12.8" height="44.3" fill="#4F81BD"/>
<rect x="969.1" y="502.9" width="12.8" height="48.6" fill="#4F81BD"/>
<rect x="992.5" y="500.4" width="12.8" height="51.1" fill="#4F81BD"/>
<rect x="1015.9" y="499.5" width="12.8" height="52.0" fill="#4F81BD"/>
<line x1="164.7" y1="551.5" x2="1034.7" y2="551.5" stroke="#222" stroke-width="1.6"/>
<polyline points="181.3,487.6 204.7,486.7 228.0,487.0 251.4,486.3 274.7,486.3 298.1,486.0 321.5,485.8 344.8,485.6 368.2,485.6 391.5,484.7 414.9,483.5 438.3,482.8 461.6,482.8 485.0,482.8 508.3,482.4 531.7,482.2 555.1,482.5 578.4,481.9 601.8,481.1 625.1,481.1 648.5,482.5 671.9,481.1 695.2,479.7 718.6,476.8 741.9,476.8 765.3,476.0 788.7,474.3 812.0,473.1 835.4,465.4 858.7,452.0 882.1,465.4 905.5,465.4 928.8,467.4 952.2,464.0 975.5,465.4 998.9,463.4 1022.3,466.8" fill="none" stroke="#4F81BD" stroke-width="2.6" stroke-linejoin="round"/>
<circle cx="181.3" cy="487.6" r="4.2" fill="#4F81BD"/>
<circle cx="204.7" cy="486.7" r="4.2" fill="#4F81BD"/>
<circle cx="228.0" cy="487" r="4.2" fill="#4F81BD"/>
<circle cx="251.4" cy="486.3" r="4.2" fill="#4F81BD"/>
<circle cx="274.7" cy="486.3" r="4.2" fill="#4F81BD"/>
<circle cx="298.1" cy="486" r="4.2" fill="#4F81BD"/>
<circle cx="321.5" cy="485.8" r="4.2" fill="#4F81BD"/>
<circle cx="344.8" cy="485.6" r="4.2" fill="#4F81BD"/>
<circle cx="368.2" cy="485.6" r="4.2" fill="#4F81BD"/>
<circle cx="391.5" cy="484.7" r="4.2" fill="#4F81BD"/>
<circle cx="414.9" cy="483.5" r="4.2" fill="#4F81BD"/>
<circle cx="438.3" cy="482.8" r="4.2" fill="#4F81BD"/>
<circle cx="461.6" cy="482.8" r="4.2" fill="#4F81BD"/>
<circle cx="485.0" cy="482.8" r="4.2" fill="#4F81BD"/>
<circle cx="508.3" cy="482.4" r="4.2" fill="#4F81BD"/>
<circle cx="531.7" cy="482.2" r="4.2" fill="#4F81BD"/>
<circle cx="555.1" cy="482.5" r="4.2" fill="#4F81BD"/>
<circle cx="578.4" cy="481.9" r="4.2" fill="#4F81BD"/>
<circle cx="601.8" cy="481.1" r="4.2" fill="#4F81BD"/>
<circle cx="625.1" cy="481.1" r="4.2" fill="#4F81BD"/>
<circle cx="648.5" cy="482.5" r="4.2" fill="#4F81BD"/>
<circle cx="671.9" cy="481.1" r="4.2" fill="#4F81BD"/>
<circle cx="695.2" cy="479.7" r="4.2" fill="#4F81BD"/>
<circle cx="718.6" cy="476.8" r="4.2" fill="#4F81BD"/>
<circle cx="741.9" cy="476.8" r="4.2" fill="#4F81BD"/>
<circle cx="765.3" cy="476" r="4.2" fill="#4F81BD"/>
<circle cx="788.7" cy="474.3" r="4.2" fill="#4F81BD"/>
<circle cx="812.0" cy="473.1" r="4.2" fill="#4F81BD"/>
<circle cx="835.4" cy="465.4" r="4.2" fill="#4F81BD"/>
<circle cx="858.7" cy="452" r="4.2" fill="#4F81BD"/>
<circle cx="882.1" cy="465.4" r="4.2" fill="#4F81BD"/>
<circle cx="905.5" cy="465.4" r="4.2" fill="#4F81BD"/>
<circle cx="928.8" cy="467.4" r="4.2" fill="#4F81BD"/>
<circle cx="952.2" cy="464" r="4.2" fill="#4F81BD"/>
<circle cx="975.5" cy="465.4" r="4.2" fill="#4F81BD"/>
<circle cx="998.9" cy="463.4" r="4.2" fill="#4F81BD"/>
<circle cx="1022.3" cy="466.8" r="4.2" fill="#4F81BD"/>
<polyline points="181.3,475.5 204.7,478.3 228.0,477.7 251.4,478.3 274.7,479.2 298.1,480.6 321.5,478.9 344.8,480.5 368.2,477.7 391.5,475.9 414.9,478.7 438.3,482.1 461.6,480.0 485.0,480.5 508.3,478.9 531.7,476.3 555.1,474.0 578.4,472.0 601.8,474.5 625.1,469.7 648.5,467.4 671.9,461.0 695.2,454.1 718.6,451.2 741.9,445.0 765.3,444.7 788.7,446.2 812.0,442.5 835.4,450.2 858.7,466.0 882.1,453.2 905.5,457.4 928.8,468.8 952.2,483.0 975.5,482.5" fill="none" stroke="#C0504D" stroke-width="2.6" stroke-linejoin="round"/>
<circle cx="181.3" cy="475.5" r="4.2" fill="#C0504D"/>
<circle cx="204.7" cy="478.3" r="4.2" fill="#C0504D"/>
<circle cx="228.0" cy="477.7" r="4.2" fill="#C0504D"/>
<circle cx="251.4" cy="478.3" r="4.2" fill="#C0504D"/>
<circle cx="274.7" cy="479.2" r="4.2" fill="#C0504D"/>
<circle cx="298.1" cy="480.6" r="4.2" fill="#C0504D"/>
<circle cx="321.5" cy="478.9" r="4.2" fill="#C0504D"/>
<circle cx="344.8" cy="480.5" r="4.2" fill="#C0504D"/>
<circle cx="368.2" cy="477.7" r="4.2" fill="#C0504D"/>
<circle cx="391.5" cy="475.9" r="4.2" fill="#C0504D"/>
<circle cx="414.9" cy="478.7" r="4.2" fill="#C0504D"/>
<circle cx="438.3" cy="482.1" r="4.2" fill="#C0504D"/>
<circle cx="461.6" cy="480" r="4.2" fill="#C0504D"/>
<circle cx="485.0" cy="480.5" r="4.2" fill="#C0504D"/>
<circle cx="508.3" cy="478.9" r="4.2" fill="#C0504D"/>
<circle cx="531.7" cy="476.3" r="4.2" fill="#C0504D"/>
<circle cx="555.1" cy="474" r="4.2" fill="#C0504D"/>
<circle cx="578.4" cy="472" r="4.2" fill="#C0504D"/>
<circle cx="601.8" cy="474.5" r="4.2" fill="#C0504D"/>
<circle cx="625.1" cy="469.7" r="4.2" fill="#C0504D"/>
<circle cx="648.5" cy="467.4" r="4.2" fill="#C0504D"/>
<circle cx="671.9" cy="461" r="4.2" fill="#C0504D"/>
<circle cx="695.2" cy="454.1" r="4.2" fill="#C0504D"/>
<circle cx="718.6" cy="451.2" r="4.2" fill="#C0504D"/>
<circle cx="741.9" cy="445" r="4.2" fill="#C0504D"/>
<circle cx="765.3" cy="444.7" r="4.2" fill="#C0504D"/>
<circle cx="788.7" cy="446.2" r="4.2" fill="#C0504D"/>
<circle cx="812.0" cy="442.5" r="4.2" fill="#C0504D"/>
<circle cx="835.4" cy="450.2" r="4.2" fill="#C0504D"/>
<circle cx="858.7" cy="466" r="4.2" fill="#C0504D"/>
<circle cx="882.1" cy="453.2" r="4.2" fill="#C0504D"/>
<circle cx="905.5" cy="457.4" r="4.2" fill="#C0504D"/>
<circle cx="928.8" cy="468.8" r="4.2" fill="#C0504D"/>
<circle cx="952.2" cy="483" r="4.2" fill="#C0504D"/>
<circle cx="975.5" cy="482.5" r="4.2" fill="#C0504D"/>
<circle cx="1022.3" cy="483.3" r="4.2" fill="#C0504D"/>
<rect x="666" y="456" width="11" height="13" fill="#fff"/>
<rect x="801.9" y="443.7" width="20" height="17" fill="#fff"/>
<text x="383.7" y="462.5" font-size="13" font-weight="bold" text-anchor="start" fill="#000" textLength="15.6" lengthAdjust="spacingAndGlyphs" >12</text>
<text x="546.9" y="459.7" font-size="13" font-weight="bold" text-anchor="start" fill="#000" textLength="16.3" lengthAdjust="spacingAndGlyphs" >14</text>
<text x="663.9" y="446.1" font-size="13" font-weight="bold" text-anchor="start" fill="#000" textLength="15.4" lengthAdjust="spacingAndGlyphs" >23</text>
<text x="667.8" y="467.4" font-size="13" font-weight="bold" text-anchor="start" fill="#000" textLength="7.8" lengthAdjust="spacingAndGlyphs" >9</text>
<text x="734.1" y="431.3" font-size="13" font-weight="bold" text-anchor="start" fill="#000" textLength="16.0" lengthAdjust="spacingAndGlyphs" >34</text>
<text x="804.5" y="458.7" font-size="13" font-weight="bold" text-anchor="start" fill="#000" textLength="15.3" lengthAdjust="spacingAndGlyphs" >15</text>
<text x="851.0" y="437.5" font-size="13" font-weight="bold" text-anchor="start" fill="#000" textLength="14.8" lengthAdjust="spacingAndGlyphs" >29</text>
<text x="1012.5" y="453.2" font-size="13" font-weight="bold" text-anchor="start" fill="#000" textLength="15.4" lengthAdjust="spacingAndGlyphs" >19</text>
<text x="543.0" y="522.3" font-size="13" font-weight="bold" text-anchor="start" fill="#000" textLength="23.9" lengthAdjust="spacingAndGlyphs" >801</text>
<text x="660.2" y="518.1" font-size="13" font-weight="bold" text-anchor="start" fill="#000" textLength="23.4" lengthAdjust="spacingAndGlyphs" >963</text>
<text x="841.3" y="501.0" font-size="13" font-weight="bold" text-anchor="start" fill="#000" textLength="34.5" lengthAdjust="spacingAndGlyphs" >1,538</text>
<text x="45.2" y="430.5" font-size="15" font-weight="300" text-anchor="start" fill="#222" textLength="59.9" lengthAdjust="spacingAndGlyphs" >运营净利</text>
<text x="60.3" y="447.1" font-size="15" font-weight="300" text-anchor="start" fill="#222" textLength="29.7" lengthAdjust="spacingAndGlyphs" >润率</text>
<text x="42.2" y="497.9" font-size="15" font-weight="300" text-anchor="start" fill="#222" textLength="59.3" lengthAdjust="spacingAndGlyphs" >研发支出</text>
<text x="66.3" y="548.3" font-size="15" font-weight="300" text-anchor="start" fill="#222" textLength="28.2" lengthAdjust="spacingAndGlyphs" >收入</text>
<line x1="94" y1="439.8" x2="184.7" y2="469.2" stroke="#000" stroke-width="1.4"/>
<line x1="107.6" y1="492.7" x2="198.2" y2="492.7" stroke="#000" stroke-width="1.4"/>
<line x1="112.1" y1="542.6" x2="179.2" y2="542.6" stroke="#000" stroke-width="1.4"/>
<line x1="368.1" y1="436.4" x2="499" y2="433.5" stroke="#000" stroke-width="3"/>
<polygon points="508,433.4 497,428.6 497,438.4" fill="#000"/>
<ellipse cx="438.5" cy="434.7" rx="27" ry="13.1" fill="#fff" stroke="#000" stroke-width="1.2"/>
<text x="418.7" y="440.4" font-size="13" font-weight="bold" text-anchor="start" fill="#000" textLength="38.8" lengthAdjust="spacingAndGlyphs" >+2.4%</text>
</svg></body></html>
